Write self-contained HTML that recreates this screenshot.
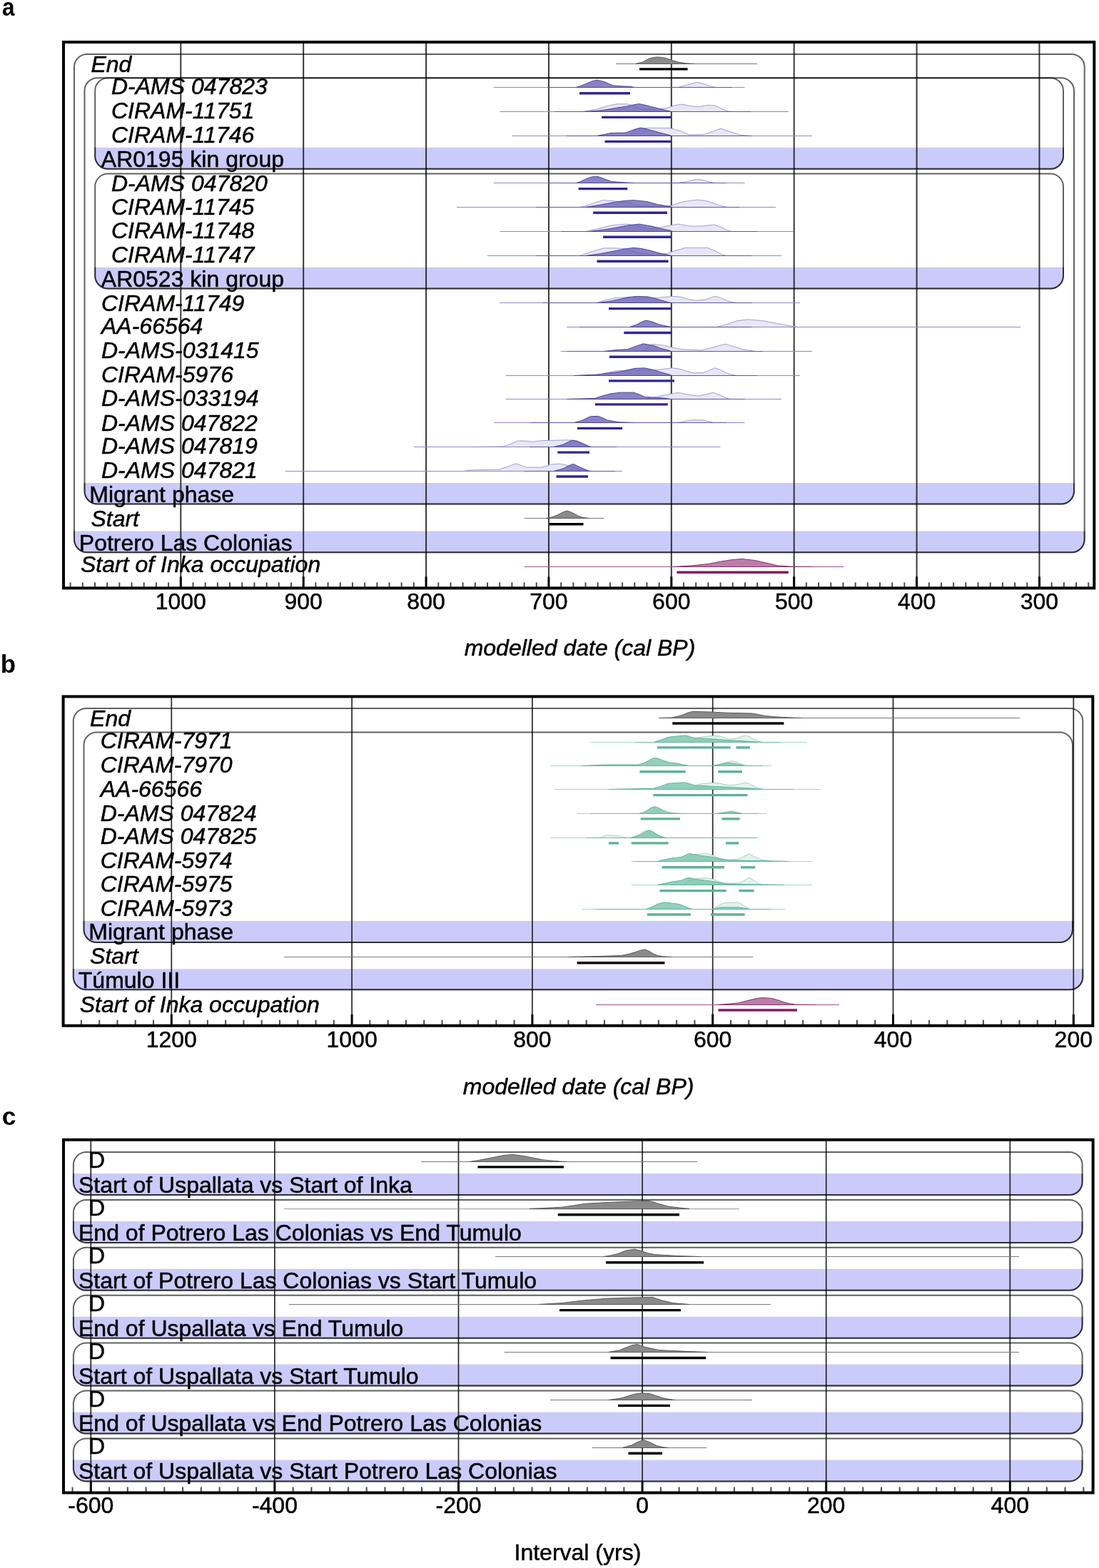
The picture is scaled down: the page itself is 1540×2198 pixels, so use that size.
<!DOCTYPE html>
<html lang="en">
<head>
<meta charset="utf-8">
<title>Chronological models</title>
<style>
html,body{margin:0;padding:0;background:#fff;}
body{width:1540px;height:2198px;overflow:hidden;font-family:"Liberation Sans", sans-serif;}
svg{display:block;}
svg text{font-family:"Liberation Sans", sans-serif;stroke:#000;stroke-width:0.5px;stroke-linejoin:round;}
</style>
</head>
<body>
<svg width="1540" height="2198" viewBox="0 0 1540 2198" font-family='"Liberation Sans", sans-serif' fill="#000">
<rect width="1540" height="2198" fill="#fff"/>
<path d="M104,744.4 L1519.7,744.4 L1519.7,756.2 A18,18 0 0 1 1501.7,774.2 L122,774.2 A18,18 0 0 1 104,756.2 Z" fill="#cbcbfb"/>
<path d="M118.5,677 L1505,677 L1505,688.6 A18,18 0 0 1 1487,706.6 L136.5,706.6 A18,18 0 0 1 118.5,688.6 Z" fill="#cbcbfb"/>
<path d="M133.2,206.8 L1490,206.8 L1490,218.7 A18,18 0 0 1 1472,236.7 L151.2,236.7 A18,18 0 0 1 133.2,218.7 Z" fill="#cbcbfb"/>
<path d="M133.2,374.8 L1490,374.8 L1490,386.6 A18,18 0 0 1 1472,404.6 L151.2,404.6 A18,18 0 0 1 133.2,386.6 Z" fill="#cbcbfb"/>
<path d="M102.8,1358.2 L1517.3,1358.2 L1517.3,1369.3 A18,18 0 0 1 1499.3,1387.3 L120.8,1387.3 A18,18 0 0 1 102.8,1369.3 Z" fill="#cbcbfb"/>
<path d="M117.5,1291 L1503,1291 L1503,1303 A18,18 0 0 1 1485,1321 L135.5,1321 A18,18 0 0 1 117.5,1303 Z" fill="#cbcbfb"/>
<path d="M102.9,1645 L1516.6,1645 L1516.6,1657 A18,18 0 0 1 1498.6,1675 L120.9,1675 A18,18 0 0 1 102.9,1657 Z" fill="#cbcbfb"/>
<path d="M102.9,1711.9 L1516.6,1711.9 L1516.6,1723.9 A18,18 0 0 1 1498.6,1741.9 L120.9,1741.9 A18,18 0 0 1 102.9,1723.9 Z" fill="#cbcbfb"/>
<path d="M102.9,1778.8 L1516.6,1778.8 L1516.6,1790.8 A18,18 0 0 1 1498.6,1808.8 L120.9,1808.8 A18,18 0 0 1 102.9,1790.8 Z" fill="#cbcbfb"/>
<path d="M102.9,1845.7 L1516.6,1845.7 L1516.6,1857.7 A18,18 0 0 1 1498.6,1875.7 L120.9,1875.7 A18,18 0 0 1 102.9,1857.7 Z" fill="#cbcbfb"/>
<path d="M102.9,1912.6 L1516.6,1912.6 L1516.6,1924.6 A18,18 0 0 1 1498.6,1942.6 L120.9,1942.6 A18,18 0 0 1 102.9,1924.6 Z" fill="#cbcbfb"/>
<path d="M102.9,1979.5 L1516.6,1979.5 L1516.6,1991.5 A18,18 0 0 1 1498.6,2009.5 L120.9,2009.5 A18,18 0 0 1 102.9,1991.5 Z" fill="#cbcbfb"/>
<path d="M102.9,2046.4 L1516.6,2046.4 L1516.6,2058.4 A18,18 0 0 1 1498.6,2076.4 L120.9,2076.4 A18,18 0 0 1 102.9,2058.4 Z" fill="#cbcbfb"/>
<line x1="253.3" y1="59" x2="253.3" y2="824.4" stroke="#1c1c1c" stroke-width="2.0" stroke-opacity="0.88"/>
<line x1="425.18" y1="59" x2="425.18" y2="824.4" stroke="#1c1c1c" stroke-width="2.0" stroke-opacity="0.88"/>
<line x1="597.06" y1="59" x2="597.06" y2="824.4" stroke="#1c1c1c" stroke-width="2.0" stroke-opacity="0.88"/>
<line x1="768.94" y1="59" x2="768.94" y2="824.4" stroke="#1c1c1c" stroke-width="2.0" stroke-opacity="0.88"/>
<line x1="940.82" y1="59" x2="940.82" y2="824.4" stroke="#1c1c1c" stroke-width="2.0" stroke-opacity="0.88"/>
<line x1="1112.7" y1="59" x2="1112.7" y2="824.4" stroke="#1c1c1c" stroke-width="2.0" stroke-opacity="0.88"/>
<line x1="1284.58" y1="59" x2="1284.58" y2="824.4" stroke="#1c1c1c" stroke-width="2.0" stroke-opacity="0.88"/>
<line x1="1456.46" y1="59" x2="1456.46" y2="824.4" stroke="#1c1c1c" stroke-width="2.0" stroke-opacity="0.88"/>
<line x1="240.3" y1="976.4" x2="240.3" y2="1437.8" stroke="#1c1c1c" stroke-width="1.7" stroke-opacity="0.95"/>
<line x1="493.1" y1="976.4" x2="493.1" y2="1437.8" stroke="#1c1c1c" stroke-width="1.7" stroke-opacity="0.95"/>
<line x1="745.9" y1="976.4" x2="745.9" y2="1437.8" stroke="#1c1c1c" stroke-width="1.7" stroke-opacity="0.95"/>
<line x1="998.7" y1="976.4" x2="998.7" y2="1437.8" stroke="#1c1c1c" stroke-width="1.7" stroke-opacity="0.95"/>
<line x1="1251.5" y1="976.4" x2="1251.5" y2="1437.8" stroke="#1c1c1c" stroke-width="1.7" stroke-opacity="0.95"/>
<line x1="1504.3" y1="976.4" x2="1504.3" y2="1437.8" stroke="#1c1c1c" stroke-width="1.7" stroke-opacity="0.95"/>
<line x1="127.3" y1="1597.7" x2="127.3" y2="2092.5" stroke="#1c1c1c" stroke-width="1.7" stroke-opacity="0.95"/>
<line x1="384.9" y1="1597.7" x2="384.9" y2="2092.5" stroke="#1c1c1c" stroke-width="1.7" stroke-opacity="0.95"/>
<line x1="642.5" y1="1597.7" x2="642.5" y2="2092.5" stroke="#1c1c1c" stroke-width="1.7" stroke-opacity="0.95"/>
<line x1="900.1" y1="1597.7" x2="900.1" y2="2092.5" stroke="#1c1c1c" stroke-width="1.7" stroke-opacity="0.95"/>
<line x1="1157.7" y1="1597.7" x2="1157.7" y2="2092.5" stroke="#1c1c1c" stroke-width="1.7" stroke-opacity="0.95"/>
<line x1="1415.3" y1="1597.7" x2="1415.3" y2="2092.5" stroke="#1c1c1c" stroke-width="1.7" stroke-opacity="0.95"/>
<path d="M1519.7,744.4 L1519.7,756.2 A18,18 0 0 1 1501.7,774.2 L122,774.2 A18,18 0 0 1 104,756.2 L104,744.4" fill="none" stroke="#000" stroke-opacity="0.45" stroke-width="2.0"/>
<rect x="104" y="76" width="1415.7" height="698.2" rx="18" ry="18" fill="none" stroke="#000" stroke-opacity="0.62" stroke-width="2.0"/>
<path d="M1505,677 L1505,688.6 A18,18 0 0 1 1487,706.6 L136.5,706.6 A18,18 0 0 1 118.5,688.6 L118.5,677" fill="none" stroke="#000" stroke-opacity="0.45" stroke-width="2.0"/>
<rect x="118.5" y="109.3" width="1386.5" height="597.3" rx="18" ry="18" fill="none" stroke="#000" stroke-opacity="0.62" stroke-width="2.0"/>
<path d="M1490,206.8 L1490,218.7 A18,18 0 0 1 1472,236.7 L151.2,236.7 A18,18 0 0 1 133.2,218.7 L133.2,206.8" fill="none" stroke="#000" stroke-opacity="0.45" stroke-width="2.0"/>
<rect x="133.2" y="109.3" width="1356.8" height="127.4" rx="18" ry="18" fill="none" stroke="#000" stroke-opacity="0.62" stroke-width="2.0"/>
<path d="M1490,374.8 L1490,386.6 A18,18 0 0 1 1472,404.6 L151.2,404.6 A18,18 0 0 1 133.2,386.6 L133.2,374.8" fill="none" stroke="#000" stroke-opacity="0.45" stroke-width="2.0"/>
<rect x="133.2" y="243.6" width="1356.8" height="161" rx="18" ry="18" fill="none" stroke="#000" stroke-opacity="0.62" stroke-width="2.0"/>
<path d="M1517.3,1358.2 L1517.3,1369.3 A18,18 0 0 1 1499.3,1387.3 L120.8,1387.3 A18,18 0 0 1 102.8,1369.3 L102.8,1358.2" fill="none" stroke="#000" stroke-opacity="0.45" stroke-width="2.0"/>
<rect x="102.8" y="993" width="1414.5" height="394.3" rx="18" ry="18" fill="none" stroke="#000" stroke-opacity="0.62" stroke-width="2.0"/>
<path d="M1503,1291 L1503,1303 A18,18 0 0 1 1485,1321 L135.5,1321 A18,18 0 0 1 117.5,1303 L117.5,1291" fill="none" stroke="#000" stroke-opacity="0.45" stroke-width="2.0"/>
<rect x="117.5" y="1026.4" width="1385.5" height="294.6" rx="18" ry="18" fill="none" stroke="#000" stroke-opacity="0.62" stroke-width="2.0"/>
<path d="M1516.6,1645 L1516.6,1657 A18,18 0 0 1 1498.6,1675 L120.9,1675 A18,18 0 0 1 102.9,1657 L102.9,1645" fill="none" stroke="#000" stroke-opacity="0.45" stroke-width="2.0"/>
<rect x="102.9" y="1615" width="1413.7" height="60" rx="18" ry="18" fill="none" stroke="#000" stroke-opacity="0.62" stroke-width="2.0"/>
<path d="M1516.6,1711.9 L1516.6,1723.9 A18,18 0 0 1 1498.6,1741.9 L120.9,1741.9 A18,18 0 0 1 102.9,1723.9 L102.9,1711.9" fill="none" stroke="#000" stroke-opacity="0.45" stroke-width="2.0"/>
<rect x="102.9" y="1681.9" width="1413.7" height="60" rx="18" ry="18" fill="none" stroke="#000" stroke-opacity="0.62" stroke-width="2.0"/>
<path d="M1516.6,1778.8 L1516.6,1790.8 A18,18 0 0 1 1498.6,1808.8 L120.9,1808.8 A18,18 0 0 1 102.9,1790.8 L102.9,1778.8" fill="none" stroke="#000" stroke-opacity="0.45" stroke-width="2.0"/>
<rect x="102.9" y="1748.8" width="1413.7" height="60" rx="18" ry="18" fill="none" stroke="#000" stroke-opacity="0.62" stroke-width="2.0"/>
<path d="M1516.6,1845.7 L1516.6,1857.7 A18,18 0 0 1 1498.6,1875.7 L120.9,1875.7 A18,18 0 0 1 102.9,1857.7 L102.9,1845.7" fill="none" stroke="#000" stroke-opacity="0.45" stroke-width="2.0"/>
<rect x="102.9" y="1815.7" width="1413.7" height="60" rx="18" ry="18" fill="none" stroke="#000" stroke-opacity="0.62" stroke-width="2.0"/>
<path d="M1516.6,1912.6 L1516.6,1924.6 A18,18 0 0 1 1498.6,1942.6 L120.9,1942.6 A18,18 0 0 1 102.9,1924.6 L102.9,1912.6" fill="none" stroke="#000" stroke-opacity="0.45" stroke-width="2.0"/>
<rect x="102.9" y="1882.6" width="1413.7" height="60" rx="18" ry="18" fill="none" stroke="#000" stroke-opacity="0.62" stroke-width="2.0"/>
<path d="M1516.6,1979.5 L1516.6,1991.5 A18,18 0 0 1 1498.6,2009.5 L120.9,2009.5 A18,18 0 0 1 102.9,1991.5 L102.9,1979.5" fill="none" stroke="#000" stroke-opacity="0.45" stroke-width="2.0"/>
<rect x="102.9" y="1949.5" width="1413.7" height="60" rx="18" ry="18" fill="none" stroke="#000" stroke-opacity="0.62" stroke-width="2.0"/>
<path d="M1516.6,2046.4 L1516.6,2058.4 A18,18 0 0 1 1498.6,2076.4 L120.9,2076.4 A18,18 0 0 1 102.9,2058.4 L102.9,2046.4" fill="none" stroke="#000" stroke-opacity="0.45" stroke-width="2.0"/>
<rect x="102.9" y="2016.4" width="1413.7" height="60" rx="18" ry="18" fill="none" stroke="#000" stroke-opacity="0.62" stroke-width="2.0"/>
<line x1="863" y1="89.5" x2="1061.3" y2="89.5" stroke="#7a7a7a" stroke-width="1.0" stroke-opacity="1"/>
<path d="M890.39,89.5L890.39,89.5L900.78,86.9L908.57,82.49L915.06,80.67L921.56,79.89L931.95,81.19L941.04,84.31L950.13,86.9L960.52,88.72L973.51,89.5L973.51,89.5Z" fill="#8a8a8a" fill-opacity="1" stroke="#5a5a5a" stroke-opacity="1" stroke-width="1.0" stroke-linejoin="round"/>
<line x1="896" y1="96.9" x2="963.6" y2="96.9" stroke="#000000" stroke-width="3.4"/>
<path d="M950.13,122.5L950.13,122.5L965.71,118.34L977.4,115.23L986.49,117.82L999.48,121.98L1003.38,122.5L1003.38,122.5Z" fill="#e8e7f4" fill-opacity="1" stroke="#a39dd3" stroke-opacity="1" stroke-width="1.0" stroke-linejoin="round"/>
<line x1="691.7" y1="122.5" x2="1043.6" y2="122.5" stroke="#8f89c9" stroke-width="1.0" stroke-opacity="1"/>
<line x1="767" y1="122.5" x2="1026" y2="122.5" stroke="#5d54ae" stroke-width="1.0" stroke-opacity="1"/>
<path d="M807.27,122.5L807.27,122.5L813.77,120.42L820.26,117.82L830.65,113.41L837.14,112.37L846.23,114.45L859.22,119.9L872.21,120.94L882.6,121.2L889.09,122.5L889.09,122.5Z" fill="#6d63b5" fill-opacity="0.8" stroke="#4d43a3" stroke-opacity="1" stroke-width="1.0" stroke-linejoin="round"/>
<line x1="812" y1="130.8" x2="883" y2="130.8" stroke="#2e2792" stroke-width="3.4"/>
<path d="M815.58,156.5L815.58,156.5L834.29,153.59L851.95,148.4L864.42,145.8L878.96,145.8L887.27,147.88L897.66,153.07L914.29,153.59L928.83,152.55L939.22,149.95L945.45,147.88L955.32,146.11L968.31,148.71L978.7,149.75L991.69,147.41L1002.08,147.93L1012.47,153.12L1020.26,155.98L1028.05,156.5L1028.05,156.5Z" fill="#e8e7f4" fill-opacity="1" stroke="#a39dd3" stroke-opacity="1" stroke-width="1.0" stroke-linejoin="round"/>
<line x1="700.3" y1="156.5" x2="1105" y2="156.5" stroke="#8f89c9" stroke-width="1.0" stroke-opacity="1"/>
<line x1="776.6" y1="156.5" x2="1052.5" y2="156.5" stroke="#5d54ae" stroke-width="1.0" stroke-opacity="1"/>
<path d="M820.78,156.5L820.78,156.5L843.64,154.63L862.34,151.51L878.96,148.92L888.31,146.84L895.58,145.49L903.9,147.36L916.36,150.47L928.83,153.59L939.22,156.19L941.3,156.5L941.3,156.5Z" fill="#6d63b5" fill-opacity="0.8" stroke="#4d43a3" stroke-opacity="1" stroke-width="1.0" stroke-linejoin="round"/>
<line x1="843" y1="164.4" x2="941" y2="164.4" stroke="#2e2792" stroke-width="3.4"/>
<path d="M883.12,190.5L883.12,190.5L889.35,181.36L899.74,179.8L910.13,179.28L938.18,179.49L945.45,181.36L955.84,184.47L965.71,188.94L986.49,188.42L999.48,184.01L1009.87,180.11L1022.86,184.53L1038.44,189.46L1051.43,190.5L1051.43,190.5Z" fill="#e8e7f4" fill-opacity="1" stroke="#a39dd3" stroke-opacity="1" stroke-width="1.0" stroke-linejoin="round"/>
<line x1="717.7" y1="190.5" x2="1138" y2="190.5" stroke="#8f89c9" stroke-width="1.0" stroke-opacity="1"/>
<line x1="794" y1="190.5" x2="1054" y2="190.5" stroke="#5d54ae" stroke-width="1.0" stroke-opacity="1"/>
<path d="M836.36,190.5L836.36,190.5L856.1,186.55L876.88,186.03L889.35,181.36L897.66,179.07L908.05,181.36L924.68,186.03L939.22,189.67L941.3,190.5L941.3,190.5Z" fill="#6d63b5" fill-opacity="0.8" stroke="#4d43a3" stroke-opacity="1" stroke-width="1.0" stroke-linejoin="round"/>
<line x1="847.5" y1="198.4" x2="941" y2="198.4" stroke="#2e2792" stroke-width="3.4"/>
<path d="M950.13,256.5L950.13,256.5L965.71,253.64L977.4,251.05L989.09,253.64L999.48,256.24L1003.38,256.5L1003.38,256.5Z" fill="#e8e7f4" fill-opacity="1" stroke="#a39dd3" stroke-opacity="1" stroke-width="1.0" stroke-linejoin="round"/>
<line x1="691.7" y1="256.5" x2="1043.6" y2="256.5" stroke="#8f89c9" stroke-width="1.0" stroke-opacity="1"/>
<line x1="768" y1="256.5" x2="1017" y2="256.5" stroke="#5d54ae" stroke-width="1.0" stroke-opacity="1"/>
<path d="M807.27,256.5L807.27,256.5L812.47,254.94L822.86,250.01L830.65,247.67L838.44,247.67L846.23,250.53L856.62,254.42L872.21,255.72L887.79,256.5L887.79,256.5Z" fill="#6d63b5" fill-opacity="0.8" stroke="#4d43a3" stroke-opacity="1" stroke-width="1.0" stroke-linejoin="round"/>
<line x1="810.6" y1="264.6" x2="879.2" y2="264.6" stroke="#2e2792" stroke-width="3.4"/>
<path d="M812.47,290.5L812.47,290.5L825.45,287.12L835.84,283.23L846.23,280.63L861.82,281.93L877.4,283.23L892.99,288.42L913.77,289.2L929.35,289.2L939.74,288.42L955.32,283.23L965.71,281.41L977.4,280.11L991.69,281.93L1002.08,285.82L1015.06,289.72L1020.26,290.5L1020.26,290.5Z" fill="#e8e7f4" fill-opacity="1" stroke="#a39dd3" stroke-opacity="1" stroke-width="1.0" stroke-linejoin="round"/>
<line x1="640" y1="290.5" x2="1087" y2="290.5" stroke="#8f89c9" stroke-width="1.0" stroke-opacity="1"/>
<line x1="751" y1="290.5" x2="1036" y2="290.5" stroke="#5d54ae" stroke-width="1.0" stroke-opacity="1"/>
<path d="M820.26,290.5L820.26,290.5L841.04,287.12L861.82,283.23L874.81,281.41L887.79,280.63L905.97,282.45L921.56,286.6L939.74,289.72L942.34,290.5L942.34,290.5Z" fill="#6d63b5" fill-opacity="0.8" stroke="#4d43a3" stroke-opacity="1" stroke-width="1.0" stroke-linejoin="round"/>
<line x1="831.2" y1="298.2" x2="935" y2="298.2" stroke="#2e2792" stroke-width="3.4"/>
<path d="M820.26,324.5L820.26,324.5L835.84,321.12L856.62,315.93L877.4,314.11L895.58,316.71L908.57,321.12L929.35,318.01L939.74,315.93L950.13,314.11L968.31,317.23L986.49,316.71L1000.78,314.89L1009.87,318.53L1020.26,323.2L1025.45,324.5L1025.45,324.5Z" fill="#e8e7f4" fill-opacity="1" stroke="#a39dd3" stroke-opacity="1" stroke-width="1.0" stroke-linejoin="round"/>
<line x1="700.3" y1="324.5" x2="1112" y2="324.5" stroke="#8f89c9" stroke-width="1.0" stroke-opacity="1"/>
<line x1="786.5" y1="324.5" x2="1062" y2="324.5" stroke="#5d54ae" stroke-width="1.0" stroke-opacity="1"/>
<path d="M825.45,324.5L825.45,324.5L846.23,321.9L861.82,319.31L880,315.93L895.58,314.11L913.77,317.23L926.75,320.6L939.74,323.2L942.34,324.5L942.34,324.5Z" fill="#6d63b5" fill-opacity="0.8" stroke="#4d43a3" stroke-opacity="1" stroke-width="1.0" stroke-linejoin="round"/>
<line x1="845" y1="332.3" x2="941" y2="332.3" stroke="#2e2792" stroke-width="3.4"/>
<path d="M812.47,358.5L812.47,358.5L828.05,353.05L846.23,347.85L861.82,347.85L877.4,348.63L892.99,354.34L913.77,356.94L934.55,355.64L944.94,351.75L960.52,347.33L991.69,347.33L1002.08,351.75L1012.47,356.94L1017.66,358.5L1017.66,358.5Z" fill="#e8e7f4" fill-opacity="1" stroke="#a39dd3" stroke-opacity="1" stroke-width="1.0" stroke-linejoin="round"/>
<line x1="683" y1="358.5" x2="1095" y2="358.5" stroke="#8f89c9" stroke-width="1.0" stroke-opacity="1"/>
<line x1="751" y1="358.5" x2="1053" y2="358.5" stroke="#5d54ae" stroke-width="1.0" stroke-opacity="1"/>
<path d="M820.26,358.5L820.26,358.5L841.04,355.64L861.82,351.75L877.4,348.63L887.79,347.33L898.18,348.37L908.57,350.45L924.16,354.86L937.14,357.46L941.04,358.5L941.04,358.5Z" fill="#6d63b5" fill-opacity="0.8" stroke="#4d43a3" stroke-opacity="1" stroke-width="1.0" stroke-linejoin="round"/>
<line x1="836.4" y1="366.2" x2="936.6" y2="366.2" stroke="#2e2792" stroke-width="3.4"/>
<path d="M835.32,424.5L835.32,424.5L848.31,420.6L863.9,417.23L882.08,416.71L921.04,417.49L941.82,415.41L952.21,415.93L962.6,418.79L972.99,421.12L985.97,420.6L993.77,418.01L1001.56,415.41L1009.35,417.23L1019.74,421.9L1027.53,423.98L1032.73,424.5L1032.73,424.5Z" fill="#e8e7f4" fill-opacity="1" stroke="#a39dd3" stroke-opacity="1" stroke-width="1.0" stroke-linejoin="round"/>
<line x1="700.3" y1="424.5" x2="1121" y2="424.5" stroke="#8f89c9" stroke-width="1.0" stroke-opacity="1"/>
<line x1="760" y1="424.5" x2="1053.5" y2="424.5" stroke="#5d54ae" stroke-width="1.0" stroke-opacity="1"/>
<path d="M837.92,424.5L837.92,424.5L856.1,421.9L869.09,419.31L882.08,416.45L892.47,415.41L908.05,415.93L921.04,419.31L936.62,423.72L940.52,424.5L940.52,424.5Z" fill="#6d63b5" fill-opacity="0.8" stroke="#4d43a3" stroke-opacity="1" stroke-width="1.0" stroke-linejoin="round"/>
<line x1="853" y1="432.6" x2="941.3" y2="432.6" stroke="#2e2792" stroke-width="3.4"/>
<path d="M1004.16,458.5L1004.16,458.5L1019.74,454.34L1032.73,449.67L1048.31,447.85L1069.09,449.67L1087.27,453.05L1108.05,456.94L1118.44,458.5L1118.44,458.5Z" fill="#e8e7f4" fill-opacity="1" stroke="#a39dd3" stroke-opacity="1" stroke-width="1.0" stroke-linejoin="round"/>
<line x1="794.5" y1="458.5" x2="1430" y2="458.5" stroke="#8f89c9" stroke-width="1.0" stroke-opacity="1"/>
<line x1="812" y1="458.5" x2="1053.5" y2="458.5" stroke="#5d54ae" stroke-width="1.0" stroke-opacity="1"/>
<path d="M882.08,458.5L882.08,458.5L892.47,454.86L900.26,450.71L905.45,449.15L913.25,450.71L923.64,454.86L936.62,457.72L940.52,458.5L940.52,458.5Z" fill="#6d63b5" fill-opacity="0.8" stroke="#4d43a3" stroke-opacity="1" stroke-width="1.0" stroke-linejoin="round"/>
<line x1="874.3" y1="466.5" x2="941.3" y2="466.5" stroke="#2e2792" stroke-width="3.4"/>
<path d="M900.26,492.5L900.26,492.5L913.25,482.63L928.83,483.93L941.82,487.05L954.81,489.64L983.38,490.94L998.96,487.05L1009.35,483.93L1017.14,482.37L1027.53,485.75L1040.52,489.64L1058.7,492.5L1058.7,492.5Z" fill="#e8e7f4" fill-opacity="1" stroke="#a39dd3" stroke-opacity="1" stroke-width="1.0" stroke-linejoin="round"/>
<line x1="786" y1="492.5" x2="1138" y2="492.5" stroke="#8f89c9" stroke-width="1.0" stroke-opacity="1"/>
<line x1="794" y1="492.5" x2="1069" y2="492.5" stroke="#5d54ae" stroke-width="1.0" stroke-opacity="1"/>
<path d="M845.71,492.5L845.71,492.5L863.9,490.42L879.48,489.64L889.87,485.75L901.56,481.85L915.84,484.45L926.23,488.34L936.62,490.94L940.52,492.5L940.52,492.5Z" fill="#6d63b5" fill-opacity="0.8" stroke="#4d43a3" stroke-opacity="1" stroke-width="1.0" stroke-linejoin="round"/>
<line x1="854" y1="500.2" x2="941.3" y2="500.2" stroke="#2e2792" stroke-width="3.4"/>
<path d="M835.32,526.5L835.32,526.5L848.31,522.86L863.9,519.75L882.08,518.97L921.04,518.45L941.82,515.85L952.21,517.15L962.6,520.53L972.99,523.12L985.97,522.34L993.77,519.23L1001.56,515.85L1009.35,518.45L1019.74,523.64L1024.94,524.94L1032.73,526.5L1032.73,526.5Z" fill="#e8e7f4" fill-opacity="1" stroke="#a39dd3" stroke-opacity="1" stroke-width="1.0" stroke-linejoin="round"/>
<line x1="709" y1="526.5" x2="1121" y2="526.5" stroke="#8f89c9" stroke-width="1.0" stroke-opacity="1"/>
<line x1="804" y1="526.5" x2="1061" y2="526.5" stroke="#5d54ae" stroke-width="1.0" stroke-opacity="1"/>
<path d="M804.16,526.5L804.16,526.5L837.92,524.94L869.09,521.05L889.87,516.37L902.86,515.85L915.84,518.45L926.23,521.82L939.22,525.46L941.82,526.5L941.82,526.5Z" fill="#6d63b5" fill-opacity="0.8" stroke="#4d43a3" stroke-opacity="1" stroke-width="1.0" stroke-linejoin="round"/>
<line x1="853" y1="533.9" x2="945" y2="533.9" stroke="#2e2792" stroke-width="3.4"/>
<path d="M903.38,559.5L903.38,559.5L918.96,556.38L934.55,553.27L950.13,550.41L965.71,553.27L978.7,555.08L989.09,553.01L999.48,550.15L1009.87,554.31L1020.26,558.98L1025.45,559.5L1025.45,559.5Z" fill="#e8e7f4" fill-opacity="1" stroke="#a39dd3" stroke-opacity="1" stroke-width="1.0" stroke-linejoin="round"/>
<line x1="708.6" y1="559.5" x2="1095" y2="559.5" stroke="#8f89c9" stroke-width="1.0" stroke-opacity="1"/>
<line x1="794" y1="559.5" x2="1043.6" y2="559.5" stroke="#5d54ae" stroke-width="1.0" stroke-opacity="1"/>
<path d="M794.29,559.5L794.29,559.5L833.25,558.46L846.23,554.31L856.62,551.71L869.61,550.15L887.79,550.15L895.58,552.75L903.38,556.38L929.35,557.94L939.74,559.5L939.74,559.5Z" fill="#6d63b5" fill-opacity="0.8" stroke="#4d43a3" stroke-opacity="1" stroke-width="1.0" stroke-linejoin="round"/>
<line x1="833.8" y1="566.9" x2="935.8" y2="566.9" stroke="#2e2792" stroke-width="3.4"/>
<path d="M950.13,592.5L950.13,592.5L968.31,588.86L983.9,588.86L999.48,592.24L1002.08,592.5L1002.08,592.5Z" fill="#e8e7f4" fill-opacity="1" stroke="#a39dd3" stroke-opacity="1" stroke-width="1.0" stroke-linejoin="round"/>
<line x1="691.7" y1="592.5" x2="1043.6" y2="592.5" stroke="#8f89c9" stroke-width="1.0" stroke-opacity="1"/>
<line x1="743.6" y1="592.5" x2="1017.7" y2="592.5" stroke="#5d54ae" stroke-width="1.0" stroke-opacity="1"/>
<path d="M804.68,592.5L804.68,592.5L815.06,589.64L822.86,585.75L828.05,583.67L838.44,583.41L846.23,586.53L851.43,589.12L867.01,591.72L887.79,592.5L887.79,592.5Z" fill="#6d63b5" fill-opacity="0.8" stroke="#4d43a3" stroke-opacity="1" stroke-width="1.0" stroke-linejoin="round"/>
<line x1="809" y1="600.4" x2="872.2" y2="600.4" stroke="#2e2792" stroke-width="3.4"/>
<path d="M660.52,626.5L660.52,626.5L704.68,625.98L715.06,622.6L725.45,617.93L738.44,618.19L746.23,619.23L756.62,617.93L757.92,617.67L794.29,616.89L807.27,617.41L817.66,621.56L825.45,625.72L828.05,626.5L828.05,626.5Z" fill="#e8e7f4" fill-opacity="1" stroke="#a39dd3" stroke-opacity="1" stroke-width="1.0" stroke-linejoin="round"/>
<line x1="580" y1="626.5" x2="1009.4" y2="626.5" stroke="#8f89c9" stroke-width="1.0" stroke-opacity="1"/>
<line x1="742" y1="626.5" x2="864" y2="626.5" stroke="#5d54ae" stroke-width="1.0" stroke-opacity="1"/>
<path d="M776.1,626.5L776.1,626.5L789.09,623.12L796.88,619.23L802.08,617.15L809.87,618.97L817.66,622.6L825.45,625.72L828.05,626.5L828.05,626.5Z" fill="#6d63b5" fill-opacity="0.8" stroke="#4d43a3" stroke-opacity="1" stroke-width="1.0" stroke-linejoin="round"/>
<line x1="781.3" y1="634.1" x2="826" y2="634.1" stroke="#2e2792" stroke-width="3.4"/>
<path d="M650.13,660.5L650.13,660.5L657.92,658.94L699.48,658.16L712.47,653.75L722.86,649.85L730.65,652.45L738.44,655.05L759.22,655.05L769.61,652.45L768.31,651.41L783.9,650.11L794.29,652.19L804.68,655.56L815.06,658.68L825.45,660.5L825.45,660.5Z" fill="#e8e7f4" fill-opacity="1" stroke="#a39dd3" stroke-opacity="1" stroke-width="1.0" stroke-linejoin="round"/>
<line x1="399.5" y1="660.5" x2="871.7" y2="660.5" stroke="#8f89c9" stroke-width="1.0" stroke-opacity="1"/>
<line x1="734.5" y1="660.5" x2="862" y2="660.5" stroke="#5d54ae" stroke-width="1.0" stroke-opacity="1"/>
<path d="M776.1,660.5L776.1,660.5L789.09,656.86L796.88,652.71L803.38,650.37L812.47,654.79L820.26,658.16L825.45,659.98L828.05,660.5L828.05,660.5Z" fill="#6d63b5" fill-opacity="0.8" stroke="#4d43a3" stroke-opacity="1" stroke-width="1.0" stroke-linejoin="round"/>
<line x1="779.5" y1="668" x2="824" y2="668" stroke="#2e2792" stroke-width="3.4"/>
<line x1="734.7" y1="726.5" x2="846" y2="726.5" stroke="#7a7a7a" stroke-width="1.0" stroke-opacity="1"/>
<path d="M764.94,726.5L764.94,726.5L773.05,724.88L781.17,721.95L789.29,717.73L794.81,716.11L800.65,718.06L810.39,723.25L816.88,725.53L825,726.5L825,726.5Z" fill="#8a8a8a" fill-opacity="1" stroke="#5a5a5a" stroke-opacity="1" stroke-width="1.0" stroke-linejoin="round"/>
<line x1="769.8" y1="734.8" x2="817.5" y2="734.8" stroke="#000000" stroke-width="3.4"/>
<line x1="734.7" y1="794.5" x2="1182" y2="794.5" stroke="#a0508a" stroke-width="1.0" stroke-opacity="1"/>
<path d="M943.51,794.5L943.51,794.5L969.48,792.88L992.21,790.6L1008.44,787.36L1024.68,784.76L1039.29,783.46L1057.14,785.41L1073.38,788.98L1089.61,792.88L1109.09,794.18L1138.31,794.5L1138.31,794.5Z" fill="#ba7fa8" fill-opacity="1" stroke="#8a2b6b" stroke-opacity="1" stroke-width="1.0" stroke-linejoin="round"/>
<line x1="948.4" y1="802.3" x2="1104.9" y2="802.3" stroke="#861c60" stroke-width="3.4"/>
<line x1="923" y1="1006.5" x2="1429" y2="1006.5" stroke="#7a7a7a" stroke-width="1.0" stroke-opacity="1"/>
<path d="M923.64,1006.5L923.64,1006.5L941.82,1005.98L952.21,1003.38L957.4,1001.82L965.19,998.71L970.39,997.41L993.77,997.93L1019.74,999.23L1053.51,1000.01L1061.3,1001.31L1071.69,1003.38L1084.68,1004.68L1097.66,1005.46L1123.64,1006.5L1123.64,1006.5Z" fill="#8a8a8a" fill-opacity="1" stroke="#5a5a5a" stroke-opacity="1" stroke-width="1.0" stroke-linejoin="round"/>
<line x1="942.3" y1="1014" x2="1098.4" y2="1014" stroke="#000000" stroke-width="3.4"/>
<path d="M967.79,1040.5L967.79,1040.5L978.18,1033.75L996.36,1031.67L1006.75,1031.67L1014.55,1033.75L1022.34,1036.34L1032.73,1035.05L1039.22,1032.45L1044.42,1031.15L1049.61,1032.45L1053.51,1035.05L1061.3,1038.42L1066.49,1039.98L1069.09,1040.5L1069.09,1040.5Z" fill="#e3f3ed" fill-opacity="1" stroke="#9fd6c4" stroke-opacity="1" stroke-width="1.0" stroke-linejoin="round"/>
<line x1="828" y1="1040.5" x2="1131" y2="1040.5" stroke="#a3d7c7" stroke-width="1.0" stroke-opacity="1"/>
<line x1="890" y1="1040.5" x2="1094" y2="1040.5" stroke="#6bbaa1" stroke-width="1.0" stroke-opacity="1"/>
<path d="M915.84,1040.5L915.84,1040.5L926.23,1037.12L936.62,1033.23L949.61,1031.93L960,1030.89L966.49,1032.45L972.99,1034.53L993.77,1035.56L1019.74,1037.64L1045.71,1038.94L1066.49,1040.5L1066.49,1040.5Z" fill="#78c3aa" fill-opacity="0.8" stroke="#5fb59b" stroke-opacity="1" stroke-width="1.0" stroke-linejoin="round"/>
<line x1="921" y1="1047.9" x2="1023.6" y2="1047.9" stroke="#5db296" stroke-width="3.4"/>
<line x1="1031.4" y1="1047.9" x2="1050.9" y2="1047.9" stroke="#5db296" stroke-width="3.4"/>
<path d="M998.96,1073.5L998.96,1073.5L1009.35,1071.16L1019.74,1068.05L1024.94,1066.75L1032.73,1068.56L1040.52,1071.68L1045.71,1072.72L1048.31,1073.5L1048.31,1073.5Z" fill="#e3f3ed" fill-opacity="1" stroke="#9fd6c4" stroke-opacity="1" stroke-width="1.0" stroke-linejoin="round"/>
<line x1="771" y1="1073.5" x2="1080.8" y2="1073.5" stroke="#a3d7c7" stroke-width="1.0" stroke-opacity="1"/>
<line x1="814.5" y1="1073.5" x2="1069" y2="1073.5" stroke="#6bbaa1" stroke-width="1.0" stroke-opacity="1"/>
<path d="M814.55,1073.5L814.55,1073.5L850.91,1071.94L895.06,1071.94L901.56,1069.86L908.05,1066.75L913.25,1063.63L918.44,1062.33L923.64,1063.63L928.83,1065.97L939.22,1069.34L949.61,1070.12L957.4,1071.94L965.19,1073.5L965.19,1073.5Z" fill="#78c3aa" fill-opacity="0.8" stroke="#5fb59b" stroke-opacity="1" stroke-width="1.0" stroke-linejoin="round"/>
<path d="M998.96,1073.5L998.96,1073.5L1009.35,1071.42L1019.74,1069.34L1030.13,1070.64L1040.52,1072.72L1043.12,1073.5L1043.12,1073.5Z" fill="#78c3aa" fill-opacity="0.8" stroke="#5fb59b" stroke-opacity="1" stroke-width="1.0" stroke-linejoin="round"/>
<line x1="896.4" y1="1081.7" x2="960.5" y2="1081.7" stroke="#5db296" stroke-width="3.4"/>
<line x1="1006.2" y1="1081.7" x2="1040" y2="1081.7" stroke="#5db296" stroke-width="3.4"/>
<path d="M967.79,1106.5L967.79,1106.5L978.18,1099.49L996.36,1097.41L1006.75,1097.93L1014.55,1099.49L1022.34,1100.79L1032.73,1100.01L1039.22,1098.19L1044.42,1096.89L1049.61,1098.45L1053.51,1100.79L1061.3,1104.16L1066.49,1105.98L1069.09,1106.5L1069.09,1106.5Z" fill="#e3f3ed" fill-opacity="1" stroke="#9fd6c4" stroke-opacity="1" stroke-width="1.0" stroke-linejoin="round"/>
<line x1="777" y1="1106.5" x2="1149.6" y2="1106.5" stroke="#a3d7c7" stroke-width="1.0" stroke-opacity="1"/>
<line x1="853.5" y1="1106.5" x2="1112" y2="1106.5" stroke="#6bbaa1" stroke-width="1.0" stroke-opacity="1"/>
<path d="M853.51,1106.5L853.51,1106.5L915.84,1105.2L926.23,1102.08L936.62,1098.19L949.61,1097.41L960,1096.89L966.49,1098.71L972.99,1100.79L993.77,1102.08L1019.74,1103.38L1045.71,1104.68L1071.69,1106.5L1071.69,1106.5Z" fill="#78c3aa" fill-opacity="0.8" stroke="#5fb59b" stroke-opacity="1" stroke-width="1.0" stroke-linejoin="round"/>
<line x1="915.3" y1="1114.6" x2="1047.5" y2="1114.6" stroke="#5db296" stroke-width="3.4"/>
<path d="M1004.16,1140.5L1004.16,1140.5L1014.55,1138.94L1024.94,1136.86L1032.73,1138.94L1040.52,1140.5L1040.52,1140.5Z" fill="#e3f3ed" fill-opacity="1" stroke="#9fd6c4" stroke-opacity="1" stroke-width="1.0" stroke-linejoin="round"/>
<line x1="808.6" y1="1140.5" x2="1074.3" y2="1140.5" stroke="#a3d7c7" stroke-width="1.0" stroke-opacity="1"/>
<line x1="827.5" y1="1140.5" x2="1062.6" y2="1140.5" stroke="#6bbaa1" stroke-width="1.0" stroke-opacity="1"/>
<path d="M895.06,1140.5L895.06,1140.5L901.56,1138.94L905.45,1136.86L911.95,1132.45L917.14,1130.63L922.34,1132.19L928.83,1135.82L935.32,1138.42L941.82,1139.72L957.4,1140.5L957.4,1140.5Z" fill="#78c3aa" fill-opacity="0.8" stroke="#5fb59b" stroke-opacity="1" stroke-width="1.0" stroke-linejoin="round"/>
<path d="M1004.16,1140.5L1004.16,1140.5L1014.55,1139.2L1024.94,1137.9L1032.73,1139.2L1040.52,1140.5L1040.52,1140.5Z" fill="#78c3aa" fill-opacity="0.8" stroke="#5fb59b" stroke-opacity="1" stroke-width="1.0" stroke-linejoin="round"/>
<line x1="897.7" y1="1147.9" x2="953" y2="1147.9" stroke="#5db296" stroke-width="3.4"/>
<line x1="1011.4" y1="1147.9" x2="1036.6" y2="1147.9" stroke="#5db296" stroke-width="3.4"/>
<path d="M840.52,1174.5L840.52,1174.5L845.71,1172.16L850.91,1170.86L863.9,1171.38L871.69,1172.94L876.88,1173.98L879.48,1174.5L879.48,1174.5Z" fill="#e3f3ed" fill-opacity="1" stroke="#9fd6c4" stroke-opacity="1" stroke-width="1.0" stroke-linejoin="round"/>
<path d="M884.68,1174.5L884.68,1174.5L895.06,1170.08L902.86,1165.41L909.35,1163.59L915.84,1166.19L921.04,1170.08L931.43,1174.5L931.43,1174.5Z" fill="#e3f3ed" fill-opacity="1" stroke="#9fd6c4" stroke-opacity="1" stroke-width="1.0" stroke-linejoin="round"/>
<line x1="771" y1="1174.5" x2="1061.8" y2="1174.5" stroke="#a3d7c7" stroke-width="1.0" stroke-opacity="1"/>
<line x1="822" y1="1174.5" x2="1061" y2="1174.5" stroke="#6bbaa1" stroke-width="1.0" stroke-opacity="1"/>
<path d="M882.08,1174.5L882.08,1174.5L892.47,1172.16L897.66,1170.08L904.16,1166.19L909.35,1164.11L914.55,1166.19L921.04,1170.08L926.23,1172.68L931.43,1173.98L934.03,1174.5L934.03,1174.5Z" fill="#78c3aa" fill-opacity="0.8" stroke="#5fb59b" stroke-opacity="1" stroke-width="1.0" stroke-linejoin="round"/>
<line x1="853" y1="1181.9" x2="867" y2="1181.9" stroke="#5db296" stroke-width="3.4"/>
<line x1="884.7" y1="1181.9" x2="936.6" y2="1181.9" stroke="#5db296" stroke-width="3.4"/>
<line x1="1017" y1="1181.9" x2="1035.3" y2="1181.9" stroke="#5db296" stroke-width="3.4"/>
<path d="M957.4,1207.5L957.4,1207.5L965.19,1200.23L972.99,1197.63L988.57,1196.59L998.96,1198.93L1004.16,1201.53L1009.35,1204.12L1022.34,1205.42L1035.32,1204.12L1043.12,1200.23L1049.61,1197.11L1057.4,1200.75L1066.49,1204.9L1079.48,1207.5L1079.48,1207.5Z" fill="#e3f3ed" fill-opacity="1" stroke="#9fd6c4" stroke-opacity="1" stroke-width="1.0" stroke-linejoin="round"/>
<line x1="884.7" y1="1207.5" x2="1138" y2="1207.5" stroke="#a3d7c7" stroke-width="1.0" stroke-opacity="1"/>
<line x1="890" y1="1207.5" x2="1105.5" y2="1207.5" stroke="#6bbaa1" stroke-width="1.0" stroke-opacity="1"/>
<path d="M921.04,1207.5L921.04,1207.5L931.43,1204.9L941.82,1202.82L954.81,1201.53L961.3,1198.41L966.49,1196.33L971.69,1197.63L978.18,1198.93L998.96,1201.53L1009.35,1203.6L1019.74,1205.42L1045.71,1206.46L1071.69,1206.72L1105.45,1207.5L1105.45,1207.5Z" fill="#78c3aa" fill-opacity="0.8" stroke="#5fb59b" stroke-opacity="1" stroke-width="1.0" stroke-linejoin="round"/>
<line x1="927.5" y1="1215.8" x2="1015" y2="1215.8" stroke="#5db296" stroke-width="3.4"/>
<line x1="1038" y1="1215.8" x2="1058.2" y2="1215.8" stroke="#5db296" stroke-width="3.4"/>
<path d="M957.4,1240.5L957.4,1240.5L965.19,1234.27L972.99,1232.19L988.57,1230.37L998.96,1232.19L1006.75,1235.56L1014.55,1238.16L1035.32,1238.16L1043.12,1234.27L1049.61,1230.37L1057.4,1234.79L1063.9,1238.94L1071.69,1240.5L1071.69,1240.5Z" fill="#e3f3ed" fill-opacity="1" stroke="#9fd6c4" stroke-opacity="1" stroke-width="1.0" stroke-linejoin="round"/>
<line x1="884.7" y1="1240.5" x2="1138" y2="1240.5" stroke="#a3d7c7" stroke-width="1.0" stroke-opacity="1"/>
<line x1="921" y1="1240.5" x2="1099" y2="1240.5" stroke="#6bbaa1" stroke-width="1.0" stroke-opacity="1"/>
<path d="M921.04,1240.5L921.04,1240.5L931.43,1238.16L941.82,1236.08L954.81,1234.27L960,1231.67L965.19,1230.37L971.69,1231.67L978.18,1232.97L998.96,1235.56L1009.35,1237.38L1019.74,1238.94L1045.71,1239.72L1071.69,1239.98L1097.66,1240.5L1097.66,1240.5Z" fill="#78c3aa" fill-opacity="0.8" stroke="#5fb59b" stroke-opacity="1" stroke-width="1.0" stroke-linejoin="round"/>
<line x1="924.4" y1="1248.6" x2="1017.7" y2="1248.6" stroke="#5db296" stroke-width="3.4"/>
<line x1="1035.3" y1="1248.6" x2="1056.6" y2="1248.6" stroke="#5db296" stroke-width="3.4"/>
<path d="M998.96,1274.5L998.96,1274.5L1006.75,1269.31L1014.55,1265.67L1035.32,1265.15L1041.82,1269.31L1048.31,1273.46L1050.91,1274.5L1050.91,1274.5Z" fill="#e3f3ed" fill-opacity="1" stroke="#9fd6c4" stroke-opacity="1" stroke-width="1.0" stroke-linejoin="round"/>
<line x1="815.3" y1="1274.5" x2="1099.7" y2="1274.5" stroke="#a3d7c7" stroke-width="1.0" stroke-opacity="1"/>
<line x1="834" y1="1274.5" x2="1080.8" y2="1274.5" stroke="#6bbaa1" stroke-width="1.0" stroke-opacity="1"/>
<path d="M905.45,1274.5L905.45,1274.5L913.25,1271.38L921.04,1267.49L926.23,1265.67L931.43,1264.89L941.82,1266.19L952.21,1267.49L960,1270.86L967.79,1273.98L970.39,1274.5L970.39,1274.5Z" fill="#78c3aa" fill-opacity="0.8" stroke="#5fb59b" stroke-opacity="1" stroke-width="1.0" stroke-linejoin="round"/>
<path d="M998.96,1274.5L998.96,1274.5L1009.35,1271.9L1035.32,1271.9L1045.71,1273.46L1050.91,1274.5L1050.91,1274.5Z" fill="#78c3aa" fill-opacity="0.8" stroke="#5fb59b" stroke-opacity="1" stroke-width="1.0" stroke-linejoin="round"/>
<line x1="906.8" y1="1282" x2="967.8" y2="1282" stroke="#5db296" stroke-width="3.4"/>
<line x1="995.8" y1="1282" x2="1043.6" y2="1282" stroke="#5db296" stroke-width="3.4"/>
<line x1="398" y1="1341.5" x2="1055.3" y2="1341.5" stroke="#7a7a7a" stroke-width="1.0" stroke-opacity="1"/>
<path d="M795.58,1341.5L795.58,1341.5L805.97,1341.24L839.74,1340.46L870.91,1339.42L881.3,1337.34L889.09,1335.01L896.88,1332.41L903.38,1330.85L909.87,1333.45L915.06,1336.82L921.56,1339.42L928.05,1340.72L941.04,1341.5L941.04,1341.5Z" fill="#8a8a8a" fill-opacity="1" stroke="#5a5a5a" stroke-opacity="1" stroke-width="1.0" stroke-linejoin="round"/>
<line x1="808.6" y1="1349.7" x2="931.4" y2="1349.7" stroke="#000000" stroke-width="3.4"/>
<line x1="835" y1="1408.5" x2="1176" y2="1408.5" stroke="#a0508a" stroke-width="1.0" stroke-opacity="1"/>
<path d="M1003.38,1408.5L1003.38,1408.5L1018.96,1407.46L1034.55,1405.9L1044.94,1403.31L1055.32,1400.71L1063.12,1399.15L1068.31,1398.63L1081.3,1399.41L1090.39,1402.01L1099.48,1405.12L1107.27,1406.94L1115.06,1408.24L1143.64,1408.5L1143.64,1408.5Z" fill="#ba7fa8" fill-opacity="1" stroke="#8a2b6b" stroke-opacity="1" stroke-width="1.0" stroke-linejoin="round"/>
<line x1="1006.5" y1="1416" x2="1117" y2="1416" stroke="#861c60" stroke-width="3.4"/>
<line x1="589.9" y1="1628.5" x2="977.2" y2="1628.5" stroke="#7a7a7a" stroke-width="1.0" stroke-opacity="1"/>
<path d="M657.4,1628.5L657.4,1628.5L670.39,1626.55L686.62,1623.31L706.1,1619.41L719.09,1618.44L735.32,1620.71L748.31,1623.31L761.3,1625.9L787.27,1628.18L793.77,1628.5L793.77,1628.5Z" fill="#8a8a8a" fill-opacity="1" stroke="#5a5a5a" stroke-opacity="1" stroke-width="1.0" stroke-linejoin="round"/>
<line x1="669.4" y1="1635.9" x2="789.9" y2="1635.9" stroke="#000000" stroke-width="3.4"/>
<line x1="398" y1="1694.5" x2="1035.6" y2="1694.5" stroke="#7a7a7a" stroke-width="2.0" stroke-opacity="0.45"/>
<path d="M741.82,1694.5L741.82,1694.5L787.27,1692.23L803.51,1689.95L819.74,1687.36L852.21,1685.41L884.68,1684.11L909.03,1683.46L915.52,1684.76L920.39,1686.71L936.62,1691.25L959.35,1693.85L965.84,1694.5L965.84,1694.5Z" fill="#8a8a8a" fill-opacity="1" stroke="#5a5a5a" stroke-opacity="1" stroke-width="1.0" stroke-linejoin="round"/>
<line x1="781.8" y1="1702.8" x2="951.9" y2="1702.8" stroke="#000000" stroke-width="3.4"/>
<line x1="694" y1="1761.5" x2="1428" y2="1761.5" stroke="#7a7a7a" stroke-width="1.0" stroke-opacity="1"/>
<path d="M845.71,1761.5L845.71,1761.5L855.45,1759.88L865.19,1757.6L878.18,1752.73L889.55,1751.11L900.91,1754.36L909.03,1756.95L917.14,1758.58L949.61,1760.53L982.08,1761.5L982.08,1761.5Z" fill="#8a8a8a" fill-opacity="1" stroke="#5a5a5a" stroke-opacity="1" stroke-width="1.0" stroke-linejoin="round"/>
<line x1="849" y1="1769.7" x2="986" y2="1769.7" stroke="#000000" stroke-width="3.4"/>
<line x1="405" y1="1828.5" x2="1080" y2="1828.5" stroke="#7a7a7a" stroke-width="1.0" stroke-opacity="1"/>
<path d="M754.81,1828.5L754.81,1828.5L787.27,1826.55L819.74,1822.66L852.21,1820.06L884.68,1819.08L913.9,1818.44L920.39,1820.38L926.88,1822.66L943.12,1826.55L965.84,1828.5L965.84,1828.5Z" fill="#8a8a8a" fill-opacity="1" stroke="#5a5a5a" stroke-opacity="1" stroke-width="1.0" stroke-linejoin="round"/>
<line x1="784" y1="1836.6" x2="954" y2="1836.6" stroke="#000000" stroke-width="3.4"/>
<line x1="706.8" y1="1895.5" x2="1428" y2="1895.5" stroke="#7a7a7a" stroke-width="1.0" stroke-opacity="1"/>
<path d="M852.21,1895.5L852.21,1895.5L868.44,1892.58L878.18,1888.68L884.68,1886.08L892.79,1884.46L897.66,1886.08L904.16,1888.36L923.64,1892.58L965.84,1894.53L991.82,1895.5L991.82,1895.5Z" fill="#8a8a8a" fill-opacity="1" stroke="#5a5a5a" stroke-opacity="1" stroke-width="1.0" stroke-linejoin="round"/>
<line x1="855.5" y1="1903.5" x2="989.2" y2="1903.5" stroke="#000000" stroke-width="3.4"/>
<line x1="771" y1="1962.5" x2="1054" y2="1962.5" stroke="#7a7a7a" stroke-width="1.0" stroke-opacity="1"/>
<path d="M852.21,1962.5L852.21,1962.5L861.95,1961.2L871.69,1959.58L887.92,1954.38L899.29,1952.76L910.65,1953.73L918.77,1956.33L926.88,1959.25L936.62,1961.2L946.36,1962.5L946.36,1962.5Z" fill="#8a8a8a" fill-opacity="1" stroke="#5a5a5a" stroke-opacity="1" stroke-width="1.0" stroke-linejoin="round"/>
<line x1="866" y1="1970.4" x2="939" y2="1970.4" stroke="#000000" stroke-width="3.4"/>
<line x1="829.5" y1="2029.5" x2="990" y2="2029.5" stroke="#7a7a7a" stroke-width="1.0" stroke-opacity="1"/>
<path d="M871.69,2029.5L871.69,2029.5L884.68,2025.93L894.42,2021.06L901.56,2018.46L910.65,2021.71L920.39,2026.58L928.51,2028.53L936.62,2029.5L936.62,2029.5Z" fill="#8a8a8a" fill-opacity="1" stroke="#5a5a5a" stroke-opacity="1" stroke-width="1.0" stroke-linejoin="round"/>
<line x1="880.5" y1="2037.3" x2="928" y2="2037.3" stroke="#000000" stroke-width="3.4"/>
<rect x="89" y="59" width="1444.3" height="765.4" fill="none" stroke="#000" stroke-width="4"/>
<line x1="253.3" y1="808.4" x2="253.3" y2="824.4" stroke="#000" stroke-width="3"/>
<line x1="425.18" y1="808.4" x2="425.18" y2="824.4" stroke="#000" stroke-width="3"/>
<line x1="597.06" y1="808.4" x2="597.06" y2="824.4" stroke="#000" stroke-width="3"/>
<line x1="768.94" y1="808.4" x2="768.94" y2="824.4" stroke="#000" stroke-width="3"/>
<line x1="940.82" y1="808.4" x2="940.82" y2="824.4" stroke="#000" stroke-width="3"/>
<line x1="1112.7" y1="808.4" x2="1112.7" y2="824.4" stroke="#000" stroke-width="3"/>
<line x1="1284.58" y1="808.4" x2="1284.58" y2="824.4" stroke="#000" stroke-width="3"/>
<line x1="1456.46" y1="808.4" x2="1456.46" y2="824.4" stroke="#000" stroke-width="3"/>
<line x1="1525.21" y1="816.4" x2="1525.21" y2="824.4" stroke="#000" stroke-width="2" stroke-opacity="0.7"/>
<line x1="1508.02" y1="816.4" x2="1508.02" y2="824.4" stroke="#000" stroke-width="2" stroke-opacity="0.7"/>
<line x1="1490.84" y1="816.4" x2="1490.84" y2="824.4" stroke="#000" stroke-width="2" stroke-opacity="0.7"/>
<line x1="1473.65" y1="816.4" x2="1473.65" y2="824.4" stroke="#000" stroke-width="2" stroke-opacity="0.7"/>
<line x1="1439.27" y1="816.4" x2="1439.27" y2="824.4" stroke="#000" stroke-width="2" stroke-opacity="0.7"/>
<line x1="1422.08" y1="816.4" x2="1422.08" y2="824.4" stroke="#000" stroke-width="2" stroke-opacity="0.7"/>
<line x1="1404.9" y1="816.4" x2="1404.9" y2="824.4" stroke="#000" stroke-width="2" stroke-opacity="0.7"/>
<line x1="1387.71" y1="816.4" x2="1387.71" y2="824.4" stroke="#000" stroke-width="2" stroke-opacity="0.7"/>
<line x1="1370.52" y1="816.4" x2="1370.52" y2="824.4" stroke="#000" stroke-width="2" stroke-opacity="0.7"/>
<line x1="1353.33" y1="816.4" x2="1353.33" y2="824.4" stroke="#000" stroke-width="2" stroke-opacity="0.7"/>
<line x1="1336.14" y1="816.4" x2="1336.14" y2="824.4" stroke="#000" stroke-width="2" stroke-opacity="0.7"/>
<line x1="1318.96" y1="816.4" x2="1318.96" y2="824.4" stroke="#000" stroke-width="2" stroke-opacity="0.7"/>
<line x1="1301.77" y1="816.4" x2="1301.77" y2="824.4" stroke="#000" stroke-width="2" stroke-opacity="0.7"/>
<line x1="1267.39" y1="816.4" x2="1267.39" y2="824.4" stroke="#000" stroke-width="2" stroke-opacity="0.7"/>
<line x1="1250.2" y1="816.4" x2="1250.2" y2="824.4" stroke="#000" stroke-width="2" stroke-opacity="0.7"/>
<line x1="1233.02" y1="816.4" x2="1233.02" y2="824.4" stroke="#000" stroke-width="2" stroke-opacity="0.7"/>
<line x1="1215.83" y1="816.4" x2="1215.83" y2="824.4" stroke="#000" stroke-width="2" stroke-opacity="0.7"/>
<line x1="1198.64" y1="816.4" x2="1198.64" y2="824.4" stroke="#000" stroke-width="2" stroke-opacity="0.7"/>
<line x1="1181.45" y1="816.4" x2="1181.45" y2="824.4" stroke="#000" stroke-width="2" stroke-opacity="0.7"/>
<line x1="1164.26" y1="816.4" x2="1164.26" y2="824.4" stroke="#000" stroke-width="2" stroke-opacity="0.7"/>
<line x1="1147.08" y1="816.4" x2="1147.08" y2="824.4" stroke="#000" stroke-width="2" stroke-opacity="0.7"/>
<line x1="1129.89" y1="816.4" x2="1129.89" y2="824.4" stroke="#000" stroke-width="2" stroke-opacity="0.7"/>
<line x1="1095.51" y1="816.4" x2="1095.51" y2="824.4" stroke="#000" stroke-width="2" stroke-opacity="0.7"/>
<line x1="1078.32" y1="816.4" x2="1078.32" y2="824.4" stroke="#000" stroke-width="2" stroke-opacity="0.7"/>
<line x1="1061.14" y1="816.4" x2="1061.14" y2="824.4" stroke="#000" stroke-width="2" stroke-opacity="0.7"/>
<line x1="1043.95" y1="816.4" x2="1043.95" y2="824.4" stroke="#000" stroke-width="2" stroke-opacity="0.7"/>
<line x1="1026.76" y1="816.4" x2="1026.76" y2="824.4" stroke="#000" stroke-width="2" stroke-opacity="0.7"/>
<line x1="1009.57" y1="816.4" x2="1009.57" y2="824.4" stroke="#000" stroke-width="2" stroke-opacity="0.7"/>
<line x1="992.38" y1="816.4" x2="992.38" y2="824.4" stroke="#000" stroke-width="2" stroke-opacity="0.7"/>
<line x1="975.2" y1="816.4" x2="975.2" y2="824.4" stroke="#000" stroke-width="2" stroke-opacity="0.7"/>
<line x1="958.01" y1="816.4" x2="958.01" y2="824.4" stroke="#000" stroke-width="2" stroke-opacity="0.7"/>
<line x1="923.63" y1="816.4" x2="923.63" y2="824.4" stroke="#000" stroke-width="2" stroke-opacity="0.7"/>
<line x1="906.44" y1="816.4" x2="906.44" y2="824.4" stroke="#000" stroke-width="2" stroke-opacity="0.7"/>
<line x1="889.26" y1="816.4" x2="889.26" y2="824.4" stroke="#000" stroke-width="2" stroke-opacity="0.7"/>
<line x1="872.07" y1="816.4" x2="872.07" y2="824.4" stroke="#000" stroke-width="2" stroke-opacity="0.7"/>
<line x1="854.88" y1="816.4" x2="854.88" y2="824.4" stroke="#000" stroke-width="2" stroke-opacity="0.7"/>
<line x1="837.69" y1="816.4" x2="837.69" y2="824.4" stroke="#000" stroke-width="2" stroke-opacity="0.7"/>
<line x1="820.5" y1="816.4" x2="820.5" y2="824.4" stroke="#000" stroke-width="2" stroke-opacity="0.7"/>
<line x1="803.32" y1="816.4" x2="803.32" y2="824.4" stroke="#000" stroke-width="2" stroke-opacity="0.7"/>
<line x1="786.13" y1="816.4" x2="786.13" y2="824.4" stroke="#000" stroke-width="2" stroke-opacity="0.7"/>
<line x1="751.75" y1="816.4" x2="751.75" y2="824.4" stroke="#000" stroke-width="2" stroke-opacity="0.7"/>
<line x1="734.56" y1="816.4" x2="734.56" y2="824.4" stroke="#000" stroke-width="2" stroke-opacity="0.7"/>
<line x1="717.38" y1="816.4" x2="717.38" y2="824.4" stroke="#000" stroke-width="2" stroke-opacity="0.7"/>
<line x1="700.19" y1="816.4" x2="700.19" y2="824.4" stroke="#000" stroke-width="2" stroke-opacity="0.7"/>
<line x1="683" y1="816.4" x2="683" y2="824.4" stroke="#000" stroke-width="2" stroke-opacity="0.7"/>
<line x1="665.81" y1="816.4" x2="665.81" y2="824.4" stroke="#000" stroke-width="2" stroke-opacity="0.7"/>
<line x1="648.62" y1="816.4" x2="648.62" y2="824.4" stroke="#000" stroke-width="2" stroke-opacity="0.7"/>
<line x1="631.44" y1="816.4" x2="631.44" y2="824.4" stroke="#000" stroke-width="2" stroke-opacity="0.7"/>
<line x1="614.25" y1="816.4" x2="614.25" y2="824.4" stroke="#000" stroke-width="2" stroke-opacity="0.7"/>
<line x1="579.87" y1="816.4" x2="579.87" y2="824.4" stroke="#000" stroke-width="2" stroke-opacity="0.7"/>
<line x1="562.68" y1="816.4" x2="562.68" y2="824.4" stroke="#000" stroke-width="2" stroke-opacity="0.7"/>
<line x1="545.5" y1="816.4" x2="545.5" y2="824.4" stroke="#000" stroke-width="2" stroke-opacity="0.7"/>
<line x1="528.31" y1="816.4" x2="528.31" y2="824.4" stroke="#000" stroke-width="2" stroke-opacity="0.7"/>
<line x1="511.12" y1="816.4" x2="511.12" y2="824.4" stroke="#000" stroke-width="2" stroke-opacity="0.7"/>
<line x1="493.93" y1="816.4" x2="493.93" y2="824.4" stroke="#000" stroke-width="2" stroke-opacity="0.7"/>
<line x1="476.74" y1="816.4" x2="476.74" y2="824.4" stroke="#000" stroke-width="2" stroke-opacity="0.7"/>
<line x1="459.56" y1="816.4" x2="459.56" y2="824.4" stroke="#000" stroke-width="2" stroke-opacity="0.7"/>
<line x1="442.37" y1="816.4" x2="442.37" y2="824.4" stroke="#000" stroke-width="2" stroke-opacity="0.7"/>
<line x1="407.99" y1="816.4" x2="407.99" y2="824.4" stroke="#000" stroke-width="2" stroke-opacity="0.7"/>
<line x1="390.8" y1="816.4" x2="390.8" y2="824.4" stroke="#000" stroke-width="2" stroke-opacity="0.7"/>
<line x1="373.62" y1="816.4" x2="373.62" y2="824.4" stroke="#000" stroke-width="2" stroke-opacity="0.7"/>
<line x1="356.43" y1="816.4" x2="356.43" y2="824.4" stroke="#000" stroke-width="2" stroke-opacity="0.7"/>
<line x1="339.24" y1="816.4" x2="339.24" y2="824.4" stroke="#000" stroke-width="2" stroke-opacity="0.7"/>
<line x1="322.05" y1="816.4" x2="322.05" y2="824.4" stroke="#000" stroke-width="2" stroke-opacity="0.7"/>
<line x1="304.86" y1="816.4" x2="304.86" y2="824.4" stroke="#000" stroke-width="2" stroke-opacity="0.7"/>
<line x1="287.68" y1="816.4" x2="287.68" y2="824.4" stroke="#000" stroke-width="2" stroke-opacity="0.7"/>
<line x1="270.49" y1="816.4" x2="270.49" y2="824.4" stroke="#000" stroke-width="2" stroke-opacity="0.7"/>
<line x1="236.11" y1="816.4" x2="236.11" y2="824.4" stroke="#000" stroke-width="2" stroke-opacity="0.7"/>
<line x1="218.92" y1="816.4" x2="218.92" y2="824.4" stroke="#000" stroke-width="2" stroke-opacity="0.7"/>
<line x1="201.74" y1="816.4" x2="201.74" y2="824.4" stroke="#000" stroke-width="2" stroke-opacity="0.7"/>
<line x1="184.55" y1="816.4" x2="184.55" y2="824.4" stroke="#000" stroke-width="2" stroke-opacity="0.7"/>
<line x1="167.36" y1="816.4" x2="167.36" y2="824.4" stroke="#000" stroke-width="2" stroke-opacity="0.7"/>
<line x1="150.17" y1="816.4" x2="150.17" y2="824.4" stroke="#000" stroke-width="2" stroke-opacity="0.7"/>
<line x1="132.98" y1="816.4" x2="132.98" y2="824.4" stroke="#000" stroke-width="2" stroke-opacity="0.7"/>
<line x1="115.8" y1="816.4" x2="115.8" y2="824.4" stroke="#000" stroke-width="2" stroke-opacity="0.7"/>
<line x1="98.61" y1="816.4" x2="98.61" y2="824.4" stroke="#000" stroke-width="2" stroke-opacity="0.7"/>
<rect x="88.6" y="976.4" width="1442.7" height="461.4" fill="none" stroke="#000" stroke-width="4"/>
<line x1="240.3" y1="1421.8" x2="240.3" y2="1437.8" stroke="#000" stroke-width="3"/>
<line x1="493.1" y1="1421.8" x2="493.1" y2="1437.8" stroke="#000" stroke-width="3"/>
<line x1="745.9" y1="1421.8" x2="745.9" y2="1437.8" stroke="#000" stroke-width="3"/>
<line x1="998.7" y1="1421.8" x2="998.7" y2="1437.8" stroke="#000" stroke-width="3"/>
<line x1="1251.5" y1="1421.8" x2="1251.5" y2="1437.8" stroke="#000" stroke-width="3"/>
<line x1="1504.3" y1="1421.8" x2="1504.3" y2="1437.8" stroke="#000" stroke-width="3"/>
<line x1="1479.02" y1="1429.8" x2="1479.02" y2="1437.8" stroke="#000" stroke-width="2" stroke-opacity="0.7"/>
<line x1="1453.74" y1="1429.8" x2="1453.74" y2="1437.8" stroke="#000" stroke-width="2" stroke-opacity="0.7"/>
<line x1="1428.46" y1="1429.8" x2="1428.46" y2="1437.8" stroke="#000" stroke-width="2" stroke-opacity="0.7"/>
<line x1="1403.18" y1="1429.8" x2="1403.18" y2="1437.8" stroke="#000" stroke-width="2" stroke-opacity="0.7"/>
<line x1="1377.9" y1="1429.8" x2="1377.9" y2="1437.8" stroke="#000" stroke-width="2" stroke-opacity="0.7"/>
<line x1="1352.62" y1="1429.8" x2="1352.62" y2="1437.8" stroke="#000" stroke-width="2" stroke-opacity="0.7"/>
<line x1="1327.34" y1="1429.8" x2="1327.34" y2="1437.8" stroke="#000" stroke-width="2" stroke-opacity="0.7"/>
<line x1="1302.06" y1="1429.8" x2="1302.06" y2="1437.8" stroke="#000" stroke-width="2" stroke-opacity="0.7"/>
<line x1="1276.78" y1="1429.8" x2="1276.78" y2="1437.8" stroke="#000" stroke-width="2" stroke-opacity="0.7"/>
<line x1="1226.22" y1="1429.8" x2="1226.22" y2="1437.8" stroke="#000" stroke-width="2" stroke-opacity="0.7"/>
<line x1="1200.94" y1="1429.8" x2="1200.94" y2="1437.8" stroke="#000" stroke-width="2" stroke-opacity="0.7"/>
<line x1="1175.66" y1="1429.8" x2="1175.66" y2="1437.8" stroke="#000" stroke-width="2" stroke-opacity="0.7"/>
<line x1="1150.38" y1="1429.8" x2="1150.38" y2="1437.8" stroke="#000" stroke-width="2" stroke-opacity="0.7"/>
<line x1="1125.1" y1="1429.8" x2="1125.1" y2="1437.8" stroke="#000" stroke-width="2" stroke-opacity="0.7"/>
<line x1="1099.82" y1="1429.8" x2="1099.82" y2="1437.8" stroke="#000" stroke-width="2" stroke-opacity="0.7"/>
<line x1="1074.54" y1="1429.8" x2="1074.54" y2="1437.8" stroke="#000" stroke-width="2" stroke-opacity="0.7"/>
<line x1="1049.26" y1="1429.8" x2="1049.26" y2="1437.8" stroke="#000" stroke-width="2" stroke-opacity="0.7"/>
<line x1="1023.98" y1="1429.8" x2="1023.98" y2="1437.8" stroke="#000" stroke-width="2" stroke-opacity="0.7"/>
<line x1="973.42" y1="1429.8" x2="973.42" y2="1437.8" stroke="#000" stroke-width="2" stroke-opacity="0.7"/>
<line x1="948.14" y1="1429.8" x2="948.14" y2="1437.8" stroke="#000" stroke-width="2" stroke-opacity="0.7"/>
<line x1="922.86" y1="1429.8" x2="922.86" y2="1437.8" stroke="#000" stroke-width="2" stroke-opacity="0.7"/>
<line x1="897.58" y1="1429.8" x2="897.58" y2="1437.8" stroke="#000" stroke-width="2" stroke-opacity="0.7"/>
<line x1="872.3" y1="1429.8" x2="872.3" y2="1437.8" stroke="#000" stroke-width="2" stroke-opacity="0.7"/>
<line x1="847.02" y1="1429.8" x2="847.02" y2="1437.8" stroke="#000" stroke-width="2" stroke-opacity="0.7"/>
<line x1="821.74" y1="1429.8" x2="821.74" y2="1437.8" stroke="#000" stroke-width="2" stroke-opacity="0.7"/>
<line x1="796.46" y1="1429.8" x2="796.46" y2="1437.8" stroke="#000" stroke-width="2" stroke-opacity="0.7"/>
<line x1="771.18" y1="1429.8" x2="771.18" y2="1437.8" stroke="#000" stroke-width="2" stroke-opacity="0.7"/>
<line x1="720.62" y1="1429.8" x2="720.62" y2="1437.8" stroke="#000" stroke-width="2" stroke-opacity="0.7"/>
<line x1="695.34" y1="1429.8" x2="695.34" y2="1437.8" stroke="#000" stroke-width="2" stroke-opacity="0.7"/>
<line x1="670.06" y1="1429.8" x2="670.06" y2="1437.8" stroke="#000" stroke-width="2" stroke-opacity="0.7"/>
<line x1="644.78" y1="1429.8" x2="644.78" y2="1437.8" stroke="#000" stroke-width="2" stroke-opacity="0.7"/>
<line x1="619.5" y1="1429.8" x2="619.5" y2="1437.8" stroke="#000" stroke-width="2" stroke-opacity="0.7"/>
<line x1="594.22" y1="1429.8" x2="594.22" y2="1437.8" stroke="#000" stroke-width="2" stroke-opacity="0.7"/>
<line x1="568.94" y1="1429.8" x2="568.94" y2="1437.8" stroke="#000" stroke-width="2" stroke-opacity="0.7"/>
<line x1="543.66" y1="1429.8" x2="543.66" y2="1437.8" stroke="#000" stroke-width="2" stroke-opacity="0.7"/>
<line x1="518.38" y1="1429.8" x2="518.38" y2="1437.8" stroke="#000" stroke-width="2" stroke-opacity="0.7"/>
<line x1="467.82" y1="1429.8" x2="467.82" y2="1437.8" stroke="#000" stroke-width="2" stroke-opacity="0.7"/>
<line x1="442.54" y1="1429.8" x2="442.54" y2="1437.8" stroke="#000" stroke-width="2" stroke-opacity="0.7"/>
<line x1="417.26" y1="1429.8" x2="417.26" y2="1437.8" stroke="#000" stroke-width="2" stroke-opacity="0.7"/>
<line x1="391.98" y1="1429.8" x2="391.98" y2="1437.8" stroke="#000" stroke-width="2" stroke-opacity="0.7"/>
<line x1="366.7" y1="1429.8" x2="366.7" y2="1437.8" stroke="#000" stroke-width="2" stroke-opacity="0.7"/>
<line x1="341.42" y1="1429.8" x2="341.42" y2="1437.8" stroke="#000" stroke-width="2" stroke-opacity="0.7"/>
<line x1="316.14" y1="1429.8" x2="316.14" y2="1437.8" stroke="#000" stroke-width="2" stroke-opacity="0.7"/>
<line x1="290.86" y1="1429.8" x2="290.86" y2="1437.8" stroke="#000" stroke-width="2" stroke-opacity="0.7"/>
<line x1="265.58" y1="1429.8" x2="265.58" y2="1437.8" stroke="#000" stroke-width="2" stroke-opacity="0.7"/>
<line x1="215.02" y1="1429.8" x2="215.02" y2="1437.8" stroke="#000" stroke-width="2" stroke-opacity="0.7"/>
<line x1="189.74" y1="1429.8" x2="189.74" y2="1437.8" stroke="#000" stroke-width="2" stroke-opacity="0.7"/>
<line x1="164.46" y1="1429.8" x2="164.46" y2="1437.8" stroke="#000" stroke-width="2" stroke-opacity="0.7"/>
<line x1="139.18" y1="1429.8" x2="139.18" y2="1437.8" stroke="#000" stroke-width="2" stroke-opacity="0.7"/>
<line x1="113.9" y1="1429.8" x2="113.9" y2="1437.8" stroke="#000" stroke-width="2" stroke-opacity="0.7"/>
<rect x="89" y="1597.7" width="1442.6" height="494.8" fill="none" stroke="#000" stroke-width="4"/>
<line x1="127.3" y1="2076.5" x2="127.3" y2="2092.5" stroke="#000" stroke-width="3"/>
<line x1="384.9" y1="2076.5" x2="384.9" y2="2092.5" stroke="#000" stroke-width="3"/>
<line x1="642.5" y1="2076.5" x2="642.5" y2="2092.5" stroke="#000" stroke-width="3"/>
<line x1="900.1" y1="2076.5" x2="900.1" y2="2092.5" stroke="#000" stroke-width="3"/>
<line x1="1157.7" y1="2076.5" x2="1157.7" y2="2092.5" stroke="#000" stroke-width="3"/>
<line x1="1415.3" y1="2076.5" x2="1415.3" y2="2092.5" stroke="#000" stroke-width="3"/>
<line x1="101.54" y1="2084.5" x2="101.54" y2="2092.5" stroke="#000" stroke-width="2" stroke-opacity="0.7"/>
<line x1="153.06" y1="2084.5" x2="153.06" y2="2092.5" stroke="#000" stroke-width="2" stroke-opacity="0.7"/>
<line x1="178.82" y1="2084.5" x2="178.82" y2="2092.5" stroke="#000" stroke-width="2" stroke-opacity="0.7"/>
<line x1="204.58" y1="2084.5" x2="204.58" y2="2092.5" stroke="#000" stroke-width="2" stroke-opacity="0.7"/>
<line x1="230.34" y1="2084.5" x2="230.34" y2="2092.5" stroke="#000" stroke-width="2" stroke-opacity="0.7"/>
<line x1="256.1" y1="2084.5" x2="256.1" y2="2092.5" stroke="#000" stroke-width="2" stroke-opacity="0.7"/>
<line x1="281.86" y1="2084.5" x2="281.86" y2="2092.5" stroke="#000" stroke-width="2" stroke-opacity="0.7"/>
<line x1="307.62" y1="2084.5" x2="307.62" y2="2092.5" stroke="#000" stroke-width="2" stroke-opacity="0.7"/>
<line x1="333.38" y1="2084.5" x2="333.38" y2="2092.5" stroke="#000" stroke-width="2" stroke-opacity="0.7"/>
<line x1="359.14" y1="2084.5" x2="359.14" y2="2092.5" stroke="#000" stroke-width="2" stroke-opacity="0.7"/>
<line x1="410.66" y1="2084.5" x2="410.66" y2="2092.5" stroke="#000" stroke-width="2" stroke-opacity="0.7"/>
<line x1="436.42" y1="2084.5" x2="436.42" y2="2092.5" stroke="#000" stroke-width="2" stroke-opacity="0.7"/>
<line x1="462.18" y1="2084.5" x2="462.18" y2="2092.5" stroke="#000" stroke-width="2" stroke-opacity="0.7"/>
<line x1="487.94" y1="2084.5" x2="487.94" y2="2092.5" stroke="#000" stroke-width="2" stroke-opacity="0.7"/>
<line x1="513.7" y1="2084.5" x2="513.7" y2="2092.5" stroke="#000" stroke-width="2" stroke-opacity="0.7"/>
<line x1="539.46" y1="2084.5" x2="539.46" y2="2092.5" stroke="#000" stroke-width="2" stroke-opacity="0.7"/>
<line x1="565.22" y1="2084.5" x2="565.22" y2="2092.5" stroke="#000" stroke-width="2" stroke-opacity="0.7"/>
<line x1="590.98" y1="2084.5" x2="590.98" y2="2092.5" stroke="#000" stroke-width="2" stroke-opacity="0.7"/>
<line x1="616.74" y1="2084.5" x2="616.74" y2="2092.5" stroke="#000" stroke-width="2" stroke-opacity="0.7"/>
<line x1="668.26" y1="2084.5" x2="668.26" y2="2092.5" stroke="#000" stroke-width="2" stroke-opacity="0.7"/>
<line x1="694.02" y1="2084.5" x2="694.02" y2="2092.5" stroke="#000" stroke-width="2" stroke-opacity="0.7"/>
<line x1="719.78" y1="2084.5" x2="719.78" y2="2092.5" stroke="#000" stroke-width="2" stroke-opacity="0.7"/>
<line x1="745.54" y1="2084.5" x2="745.54" y2="2092.5" stroke="#000" stroke-width="2" stroke-opacity="0.7"/>
<line x1="771.3" y1="2084.5" x2="771.3" y2="2092.5" stroke="#000" stroke-width="2" stroke-opacity="0.7"/>
<line x1="797.06" y1="2084.5" x2="797.06" y2="2092.5" stroke="#000" stroke-width="2" stroke-opacity="0.7"/>
<line x1="822.82" y1="2084.5" x2="822.82" y2="2092.5" stroke="#000" stroke-width="2" stroke-opacity="0.7"/>
<line x1="848.58" y1="2084.5" x2="848.58" y2="2092.5" stroke="#000" stroke-width="2" stroke-opacity="0.7"/>
<line x1="874.34" y1="2084.5" x2="874.34" y2="2092.5" stroke="#000" stroke-width="2" stroke-opacity="0.7"/>
<line x1="925.86" y1="2084.5" x2="925.86" y2="2092.5" stroke="#000" stroke-width="2" stroke-opacity="0.7"/>
<line x1="951.62" y1="2084.5" x2="951.62" y2="2092.5" stroke="#000" stroke-width="2" stroke-opacity="0.7"/>
<line x1="977.38" y1="2084.5" x2="977.38" y2="2092.5" stroke="#000" stroke-width="2" stroke-opacity="0.7"/>
<line x1="1003.14" y1="2084.5" x2="1003.14" y2="2092.5" stroke="#000" stroke-width="2" stroke-opacity="0.7"/>
<line x1="1028.9" y1="2084.5" x2="1028.9" y2="2092.5" stroke="#000" stroke-width="2" stroke-opacity="0.7"/>
<line x1="1054.66" y1="2084.5" x2="1054.66" y2="2092.5" stroke="#000" stroke-width="2" stroke-opacity="0.7"/>
<line x1="1080.42" y1="2084.5" x2="1080.42" y2="2092.5" stroke="#000" stroke-width="2" stroke-opacity="0.7"/>
<line x1="1106.18" y1="2084.5" x2="1106.18" y2="2092.5" stroke="#000" stroke-width="2" stroke-opacity="0.7"/>
<line x1="1131.94" y1="2084.5" x2="1131.94" y2="2092.5" stroke="#000" stroke-width="2" stroke-opacity="0.7"/>
<line x1="1183.46" y1="2084.5" x2="1183.46" y2="2092.5" stroke="#000" stroke-width="2" stroke-opacity="0.7"/>
<line x1="1209.22" y1="2084.5" x2="1209.22" y2="2092.5" stroke="#000" stroke-width="2" stroke-opacity="0.7"/>
<line x1="1234.98" y1="2084.5" x2="1234.98" y2="2092.5" stroke="#000" stroke-width="2" stroke-opacity="0.7"/>
<line x1="1260.74" y1="2084.5" x2="1260.74" y2="2092.5" stroke="#000" stroke-width="2" stroke-opacity="0.7"/>
<line x1="1286.5" y1="2084.5" x2="1286.5" y2="2092.5" stroke="#000" stroke-width="2" stroke-opacity="0.7"/>
<line x1="1312.26" y1="2084.5" x2="1312.26" y2="2092.5" stroke="#000" stroke-width="2" stroke-opacity="0.7"/>
<line x1="1338.02" y1="2084.5" x2="1338.02" y2="2092.5" stroke="#000" stroke-width="2" stroke-opacity="0.7"/>
<line x1="1363.78" y1="2084.5" x2="1363.78" y2="2092.5" stroke="#000" stroke-width="2" stroke-opacity="0.7"/>
<line x1="1389.54" y1="2084.5" x2="1389.54" y2="2092.5" stroke="#000" stroke-width="2" stroke-opacity="0.7"/>
<line x1="1441.06" y1="2084.5" x2="1441.06" y2="2092.5" stroke="#000" stroke-width="2" stroke-opacity="0.7"/>
<line x1="1466.82" y1="2084.5" x2="1466.82" y2="2092.5" stroke="#000" stroke-width="2" stroke-opacity="0.7"/>
<line x1="1492.58" y1="2084.5" x2="1492.58" y2="2092.5" stroke="#000" stroke-width="2" stroke-opacity="0.7"/>
<line x1="1518.34" y1="2084.5" x2="1518.34" y2="2092.5" stroke="#000" stroke-width="2" stroke-opacity="0.7"/>
<text x="253.3" y="853.7" font-size="32" text-anchor="middle">1000</text>
<text x="425.18" y="853.7" font-size="32" text-anchor="middle">900</text>
<text x="597.06" y="853.7" font-size="32" text-anchor="middle">800</text>
<text x="768.94" y="853.7" font-size="32" text-anchor="middle">700</text>
<text x="940.82" y="853.7" font-size="32" text-anchor="middle">600</text>
<text x="1112.7" y="853.7" font-size="32" text-anchor="middle">500</text>
<text x="1284.58" y="853.7" font-size="32" text-anchor="middle">400</text>
<text x="1456.46" y="853.7" font-size="32" text-anchor="middle">300</text>
<text x="127.4" y="100.9" font-size="32" font-style="italic">End</text>
<text x="156" y="132.2" font-size="32" font-style="italic">D-AMS 047823</text>
<text x="156" y="165.8" font-size="32" font-style="italic">CIRAM-11751</text>
<text x="156" y="200.2" font-size="32" font-style="italic">CIRAM-11746</text>
<text x="141.8" y="233.8" font-size="32">AR0195 kin group</text>
<text x="156" y="268.2" font-size="32" font-style="italic">D-AMS 047820</text>
<text x="156" y="301" font-size="32" font-style="italic">CIRAM-11745</text>
<text x="156" y="333.95" font-size="32" font-style="italic">CIRAM-11748</text>
<text x="156" y="368.45" font-size="32" font-style="italic">CIRAM-11747</text>
<text x="141.8" y="401.8" font-size="32">AR0523 kin group</text>
<text x="142" y="436.05" font-size="32" font-style="italic">CIRAM-11749</text>
<text x="142" y="468.1" font-size="32" font-style="italic">AA-66564</text>
<text x="142" y="501.95" font-size="32" font-style="italic">D-AMS-031415</text>
<text x="142" y="535.55" font-size="32" font-style="italic">CIRAM-5976</text>
<text x="142" y="569.4" font-size="32" font-style="italic">D-AMS-033194</text>
<text x="142" y="603.8" font-size="32" font-style="italic">D-AMS 047822</text>
<text x="142" y="636.35" font-size="32" font-style="italic">D-AMS 047819</text>
<text x="142" y="670.35" font-size="32" font-style="italic">D-AMS 047821</text>
<text x="125.3" y="704.2" font-size="32">Migrant phase</text>
<text x="127.4" y="737.8" font-size="32" font-style="italic">Start</text>
<text x="110.8" y="771.9" font-size="32">Potrero Las Colonias</text>
<text x="113" y="802.4" font-size="32" font-style="italic">Start of Inka occupation</text>
<text x="812.5" y="919.3" font-size="32" font-style="italic" text-anchor="middle">modelled date (cal BP)</text>
<text x="2.9" y="22.0" font-size="35.3" font-weight="bold" style="stroke-width:0" textLength="17.5" lengthAdjust="spacingAndGlyphs">a</text>
<text x="240.3" y="1467.5" font-size="32" text-anchor="middle">1200</text>
<text x="493.1" y="1467.5" font-size="32" text-anchor="middle">1000</text>
<text x="745.9" y="1467.5" font-size="32" text-anchor="middle">800</text>
<text x="998.7" y="1467.5" font-size="32" text-anchor="middle">600</text>
<text x="1251.5" y="1467.5" font-size="32" text-anchor="middle">400</text>
<text x="1504.3" y="1467.5" font-size="32" text-anchor="middle">200</text>
<text x="126.1" y="1017.65" font-size="32" font-style="italic">End</text>
<text x="140.7" y="1048.55" font-size="32" font-style="italic">CIRAM-7971</text>
<text x="140.7" y="1082.7" font-size="32" font-style="italic">CIRAM-7970</text>
<text x="140.7" y="1116.85" font-size="32" font-style="italic">AA-66566</text>
<text x="140.7" y="1151" font-size="32" font-style="italic">D-AMS 047824</text>
<text x="140.7" y="1183.2" font-size="32" font-style="italic">D-AMS 047825</text>
<text x="140.7" y="1217.35" font-size="32" font-style="italic">CIRAM-5974</text>
<text x="140.7" y="1250.2" font-size="32" font-style="italic">CIRAM-5975</text>
<text x="140.7" y="1284.35" font-size="32" font-style="italic">CIRAM-5973</text>
<text x="124.3" y="1316.8" font-size="32">Migrant phase</text>
<text x="126.1" y="1350.7" font-size="32" font-style="italic">Start</text>
<text x="109.8" y="1384.6" font-size="32">Túmulo III</text>
<text x="111.7" y="1418.75" font-size="32" font-style="italic">Start of Inka occupation</text>
<text x="810.6" y="1533.7" font-size="32" font-style="italic" text-anchor="middle">modelled date (cal BP)</text>
<text x="0.7" y="943.4" font-size="34.6" font-weight="bold" style="stroke-width:0" textLength="21.3" lengthAdjust="spacingAndGlyphs">b</text>
<text x="127.3" y="2121.3" font-size="32" text-anchor="middle">-600</text>
<text x="384.9" y="2121.3" font-size="32" text-anchor="middle">-400</text>
<text x="642.5" y="2121.3" font-size="32" text-anchor="middle">-200</text>
<text x="900.1" y="2121.3" font-size="32" text-anchor="middle">0</text>
<text x="1157.7" y="2121.3" font-size="32" text-anchor="middle">200</text>
<text x="1415.3" y="2121.3" font-size="32" text-anchor="middle">400</text>
<text x="124.1" y="1637" font-size="32">D</text>
<text x="110" y="1671.9" font-size="32">Start of Uspallata vs Start of Inka</text>
<text x="124.1" y="1703.9" font-size="32">D</text>
<text x="110" y="1738.8" font-size="32">End of Potrero Las Colonias vs End Tumulo</text>
<text x="124.1" y="1770.8" font-size="32">D</text>
<text x="110" y="1805.7" font-size="32">Start of Potrero Las Colonias vs Start Tumulo</text>
<text x="124.1" y="1837.7" font-size="32">D</text>
<text x="110" y="1872.6" font-size="32">End of Uspallata vs End Tumulo</text>
<text x="124.1" y="1904.6" font-size="32">D</text>
<text x="110" y="1939.5" font-size="32">Start of Uspallata vs Start Tumulo</text>
<text x="124.1" y="1971.5" font-size="32">D</text>
<text x="110" y="2006.4" font-size="32">End of Uspallata vs End Potrero Las Colonias</text>
<text x="124.1" y="2038.4" font-size="32">D</text>
<text x="110" y="2073.3" font-size="32">Start of Uspallata vs Start Potrero Las Colonias</text>
<text x="809.4" y="2187" font-size="32" text-anchor="middle">Interval (yrs)</text>
<text x="2.8" y="1576.7" font-size="35" font-weight="bold" style="stroke-width:0" textLength="19.7" lengthAdjust="spacingAndGlyphs">c</text>
</svg>
</body>
</html>
